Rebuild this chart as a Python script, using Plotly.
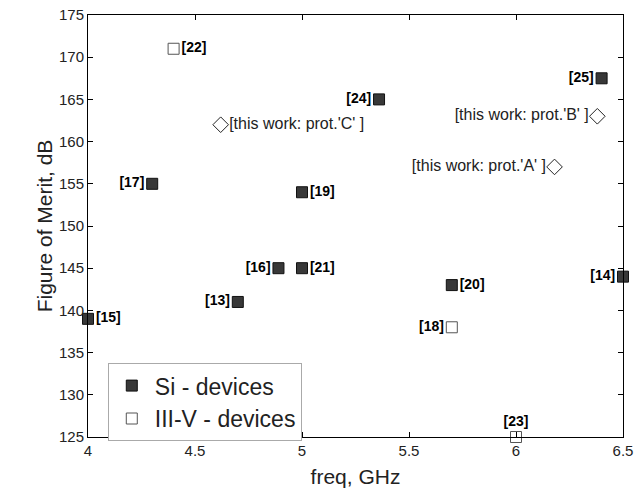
import plotly.graph_objects as go

# Si devices: frequency (GHz), figure of merit (dB), reference tag
si_freq = [4.3, 5.0, 5.36, 6.4, 4.89, 5.0, 4.7, 4.0, 5.7, 6.5]
si_fom = [155, 154, 165, 167.5, 145, 145, 141, 139, 143, 144]
si_refs = ["[17]", "[19]", "[24]", "[25]", "[16]", "[21]", "[13]", "[15]", "[20]", "[14]"]
si_pos = ["middle left", "middle right", "middle left", "middle left", "middle left",
          "middle right", "middle left", "middle right", "middle right", "middle left"]

# III-V devices
iiiv_freq = [4.4, 5.7, 6.0]
iiiv_fom = [171, 138, 125]
iiiv_refs = ["[22]", "[18]", "[23]"]
iiiv_pos = ["middle right", "middle left", "top center"]

# Prototypes from this work
tw_freq = [6.18, 6.38, 4.62]
tw_fom = [157, 163, 162]
tw_labels = ["[this work: prot.'A' ]", "[this work: prot.'B' ]", "[this work: prot.'C' ]"]
tw_pos = ["middle left", "middle left", "middle right"]

x_ticks = [4, 4.5, 5, 5.5, 6, 6.5]
x_tick_text = ["4", "4.5", "5", "5.5", "6", "6.5"]
y_ticks = [125, 130, 135, 140, 145, 150, 155, 160, 165, 170, 175]

font_main = "Liberation Sans, Arial, sans-serif"

fig = go.Figure()

fig.add_trace(go.Scatter(
    x=si_freq, y=si_fom, mode="markers+text", name="Si - devices",
    text=si_refs, textposition=si_pos,
    textfont=dict(family=font_main, size=14, color="black", weight="bold"),
    marker=dict(symbol="square", size=11, color="#383838",
                line=dict(color="#111111", width=1)),
    cliponaxis=False,
))

fig.add_trace(go.Scatter(
    x=iiiv_freq, y=iiiv_fom, mode="markers+text", name="III-V - devices",
    text=iiiv_refs, textposition=iiiv_pos,
    textfont=dict(family=font_main, size=14, color="black", weight="bold"),
    marker=dict(symbol="square-open", size=11, color="#555555",
                line=dict(width=1)),
    cliponaxis=False,
))

fig.add_trace(go.Scatter(
    x=tw_freq, y=tw_fom, mode="markers+text", name="this work",
    text=tw_labels, textposition=tw_pos, showlegend=False,
    textfont=dict(family=font_main, size=16, color="#222222"),
    marker=dict(symbol="diamond-open", size=12, color="#222222",
                line=dict(width=1)),
    cliponaxis=False,
))

axis_common = dict(
    showgrid=False, zeroline=False, showline=True, linecolor="black",
    linewidth=1, mirror="ticks", ticks="inside", ticklen=5,
    tickcolor="black", tickfont=dict(family=font_main, size=15, color="#222222"),
    automargin=False,
)

fig.update_xaxes(
    range=[4, 6.5], tickvals=x_ticks, ticktext=x_tick_text,
    title=dict(text="freq, GHz", font=dict(family=font_main, size=21, color="#222222"),
               standoff=11),
    **axis_common,
)
fig.update_yaxes(
    range=[125, 175], tickvals=y_ticks,
    title=dict(text="Figure of Merit, dB", font=dict(family=font_main, size=21, color="#222222"),
               standoff=0),
    **axis_common,
)

fig.update_layout(
    width=636, height=489,
    margin=dict(l=88, r=13, t=15, b=52),
    plot_bgcolor="white", paper_bgcolor="white",
    legend=dict(
        x=0.037, y=0.175, xanchor="left", yanchor="top",
        bgcolor="white", bordercolor="#aaaaaa", borderwidth=1,
        font=dict(family=font_main, size=23, color="#222222"),
        itemwidth=36, tracegroupgap=0,
    ),
)

fig.write_html("out.html")
